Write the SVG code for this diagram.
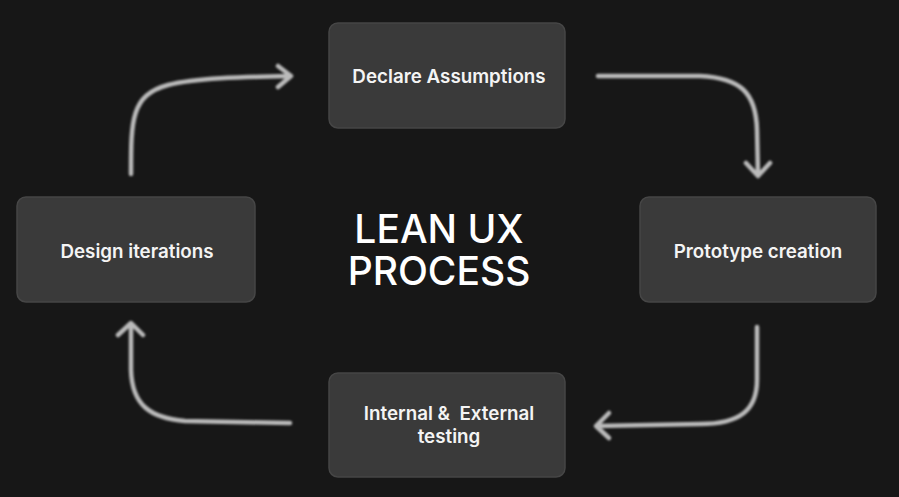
<svg xmlns="http://www.w3.org/2000/svg" width="899" height="497" viewBox="0 0 899 497">
<style>
.node rect{fill:#3a3a3a;stroke:#464646;stroke-width:1.5}
.lbl{font-family:Inter,"Liberation Sans",sans-serif;font-size:18.8px;font-weight:600;fill:#f4f4f4;text-anchor:middle}
.title{font-family:Inter,"Liberation Sans",sans-serif;font-size:39px;font-weight:500;fill:#ffffff;text-anchor:middle}
.conn path{fill:none;stroke:#bababa;stroke-width:4.5;stroke-linecap:round;stroke-linejoin:round;filter:url(#soft)}
</style>
<defs>
<filter id="soft" x="-10%" y="-10%" width="120%" height="120%"><feGaussianBlur stdDeviation="0.8"/></filter>
</defs>
<rect width="899" height="497" fill="#171717"/>
<g id="declare" class="node"><rect x="329" y="23" width="236" height="105" rx="9"/><text class="lbl" x="449" y="83">Declare Assumptions</text></g>
<g id="prototype" class="node"><rect x="640" y="197" width="236" height="105" rx="9"/><text class="lbl" x="758" y="258">Prototype creation</text></g>
<g id="testing" class="node"><rect x="329" y="373" width="236" height="104" rx="9"/><text class="lbl" x="449" y="420" xml:space="preserve">Internal &amp;  External</text><text class="lbl" x="449" y="443">testing</text></g>
<g id="design" class="node"><rect x="17" y="197" width="238" height="105" rx="9"/><text class="lbl" x="137" y="258">Design iterations</text></g>
<g id="title"><text class="title" x="439" y="243">LEAN UX</text><text class="title" x="439" y="285">PROCESS</text></g>
<g id="connectors" class="conn">
<path d="M131 174 C131 120 131 95 168 85 C195 78 240 77 290 76 M278 66 L291 76 L278 87"/>
<path d="M598 76 L700 76 C740 78 756 92 757 130 L758 175 M746 163 L758 176 L770 163"/>
<path d="M757 327 L757 380 C757 410 740 424 700 424 L597 426 M609 413 L596 426 L609 438"/>
<path d="M290 423 L185 421 C150 418 132 405 131 370 L131 325 M118 335 L131 323 L143 335"/>
</g>
</svg>
